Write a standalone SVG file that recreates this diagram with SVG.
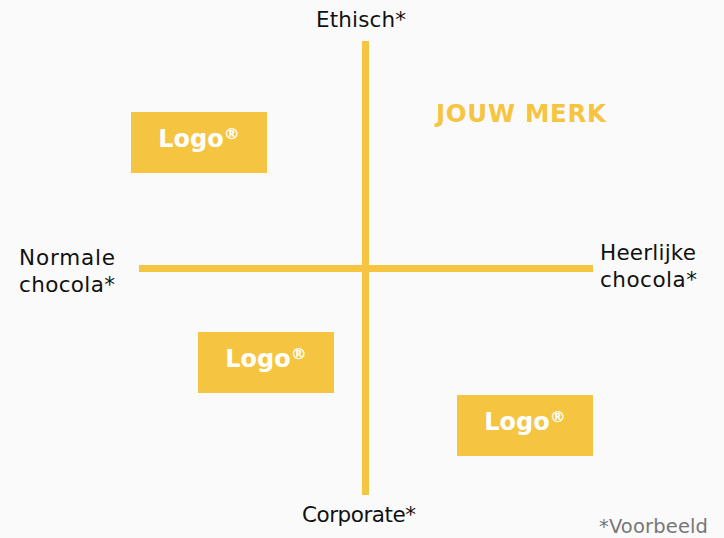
<svg xmlns="http://www.w3.org/2000/svg" width="724" height="538" viewBox="0 0 724 538">
  <style>
    .axis { fill: #F5C542; }
    .box { fill: #F5C542; }
    .logo { font-family: "DejaVu Sans", "Open Sans", sans-serif; font-weight: 700; font-size: 24px; fill: #ffffff; text-anchor: middle; }
    .logo .reg { font-size: 16px; }
    .lbl { font-family: "DejaVu Sans", "Noto Sans", sans-serif; font-size: 21.5px; fill: #111111; }
    .brand { font-family: "DejaVu Sans", "Open Sans", sans-serif; font-weight: 700; font-size: 24.5px; fill: #F5C542; }
    .note { font-family: "DejaVu Sans", "Noto Sans", sans-serif; font-size: 19.5px; fill: #777777; }
  </style>
  <rect width="724" height="538" fill="#fafafa"/>

  <g id="connectors">
    <rect class="axis" x="362" y="41" width="7" height="454"/>
    <rect class="axis" x="139" y="265" width="454" height="7"/>
  </g>

  <g id="label-top"><text class="lbl" x="316" y="27" textLength="90">Ethisch*</text></g>
  <g id="label-bottom"><text class="lbl" x="302" y="522" textLength="114">Corporate*</text></g>
  <g id="label-left">
    <text class="lbl" x="19" y="265" textLength="96">Normale</text>
    <text class="lbl" x="19" y="292" textLength="96">chocola*</text>
  </g>
  <g id="label-right">
    <text class="lbl" x="600" y="260" textLength="96">Heerlijke</text>
    <text class="lbl" x="600" y="287" textLength="97">chocola*</text>
  </g>

  <g id="brand"><text class="brand" x="436" y="122" textLength="170">JOUW MERK</text></g>

  <g id="logo-1">
    <rect class="box" x="131" y="112" width="136" height="61"/>
    <text class="logo" x="199" y="147">Logo<tspan class="reg" dy="-8">®</tspan></text>
  </g>
  <g id="logo-2">
    <rect class="box" x="198" y="332" width="136" height="61"/>
    <text class="logo" x="266" y="367">Logo<tspan class="reg" dy="-8">®</tspan></text>
  </g>
  <g id="logo-3">
    <rect class="box" x="457" y="395" width="136" height="61"/>
    <text class="logo" x="525" y="430">Logo<tspan class="reg" dy="-8">®</tspan></text>
  </g>

  <g id="footnote"><text class="note" x="599" y="533" textLength="109">*Voorbeeld</text></g>
</svg>
